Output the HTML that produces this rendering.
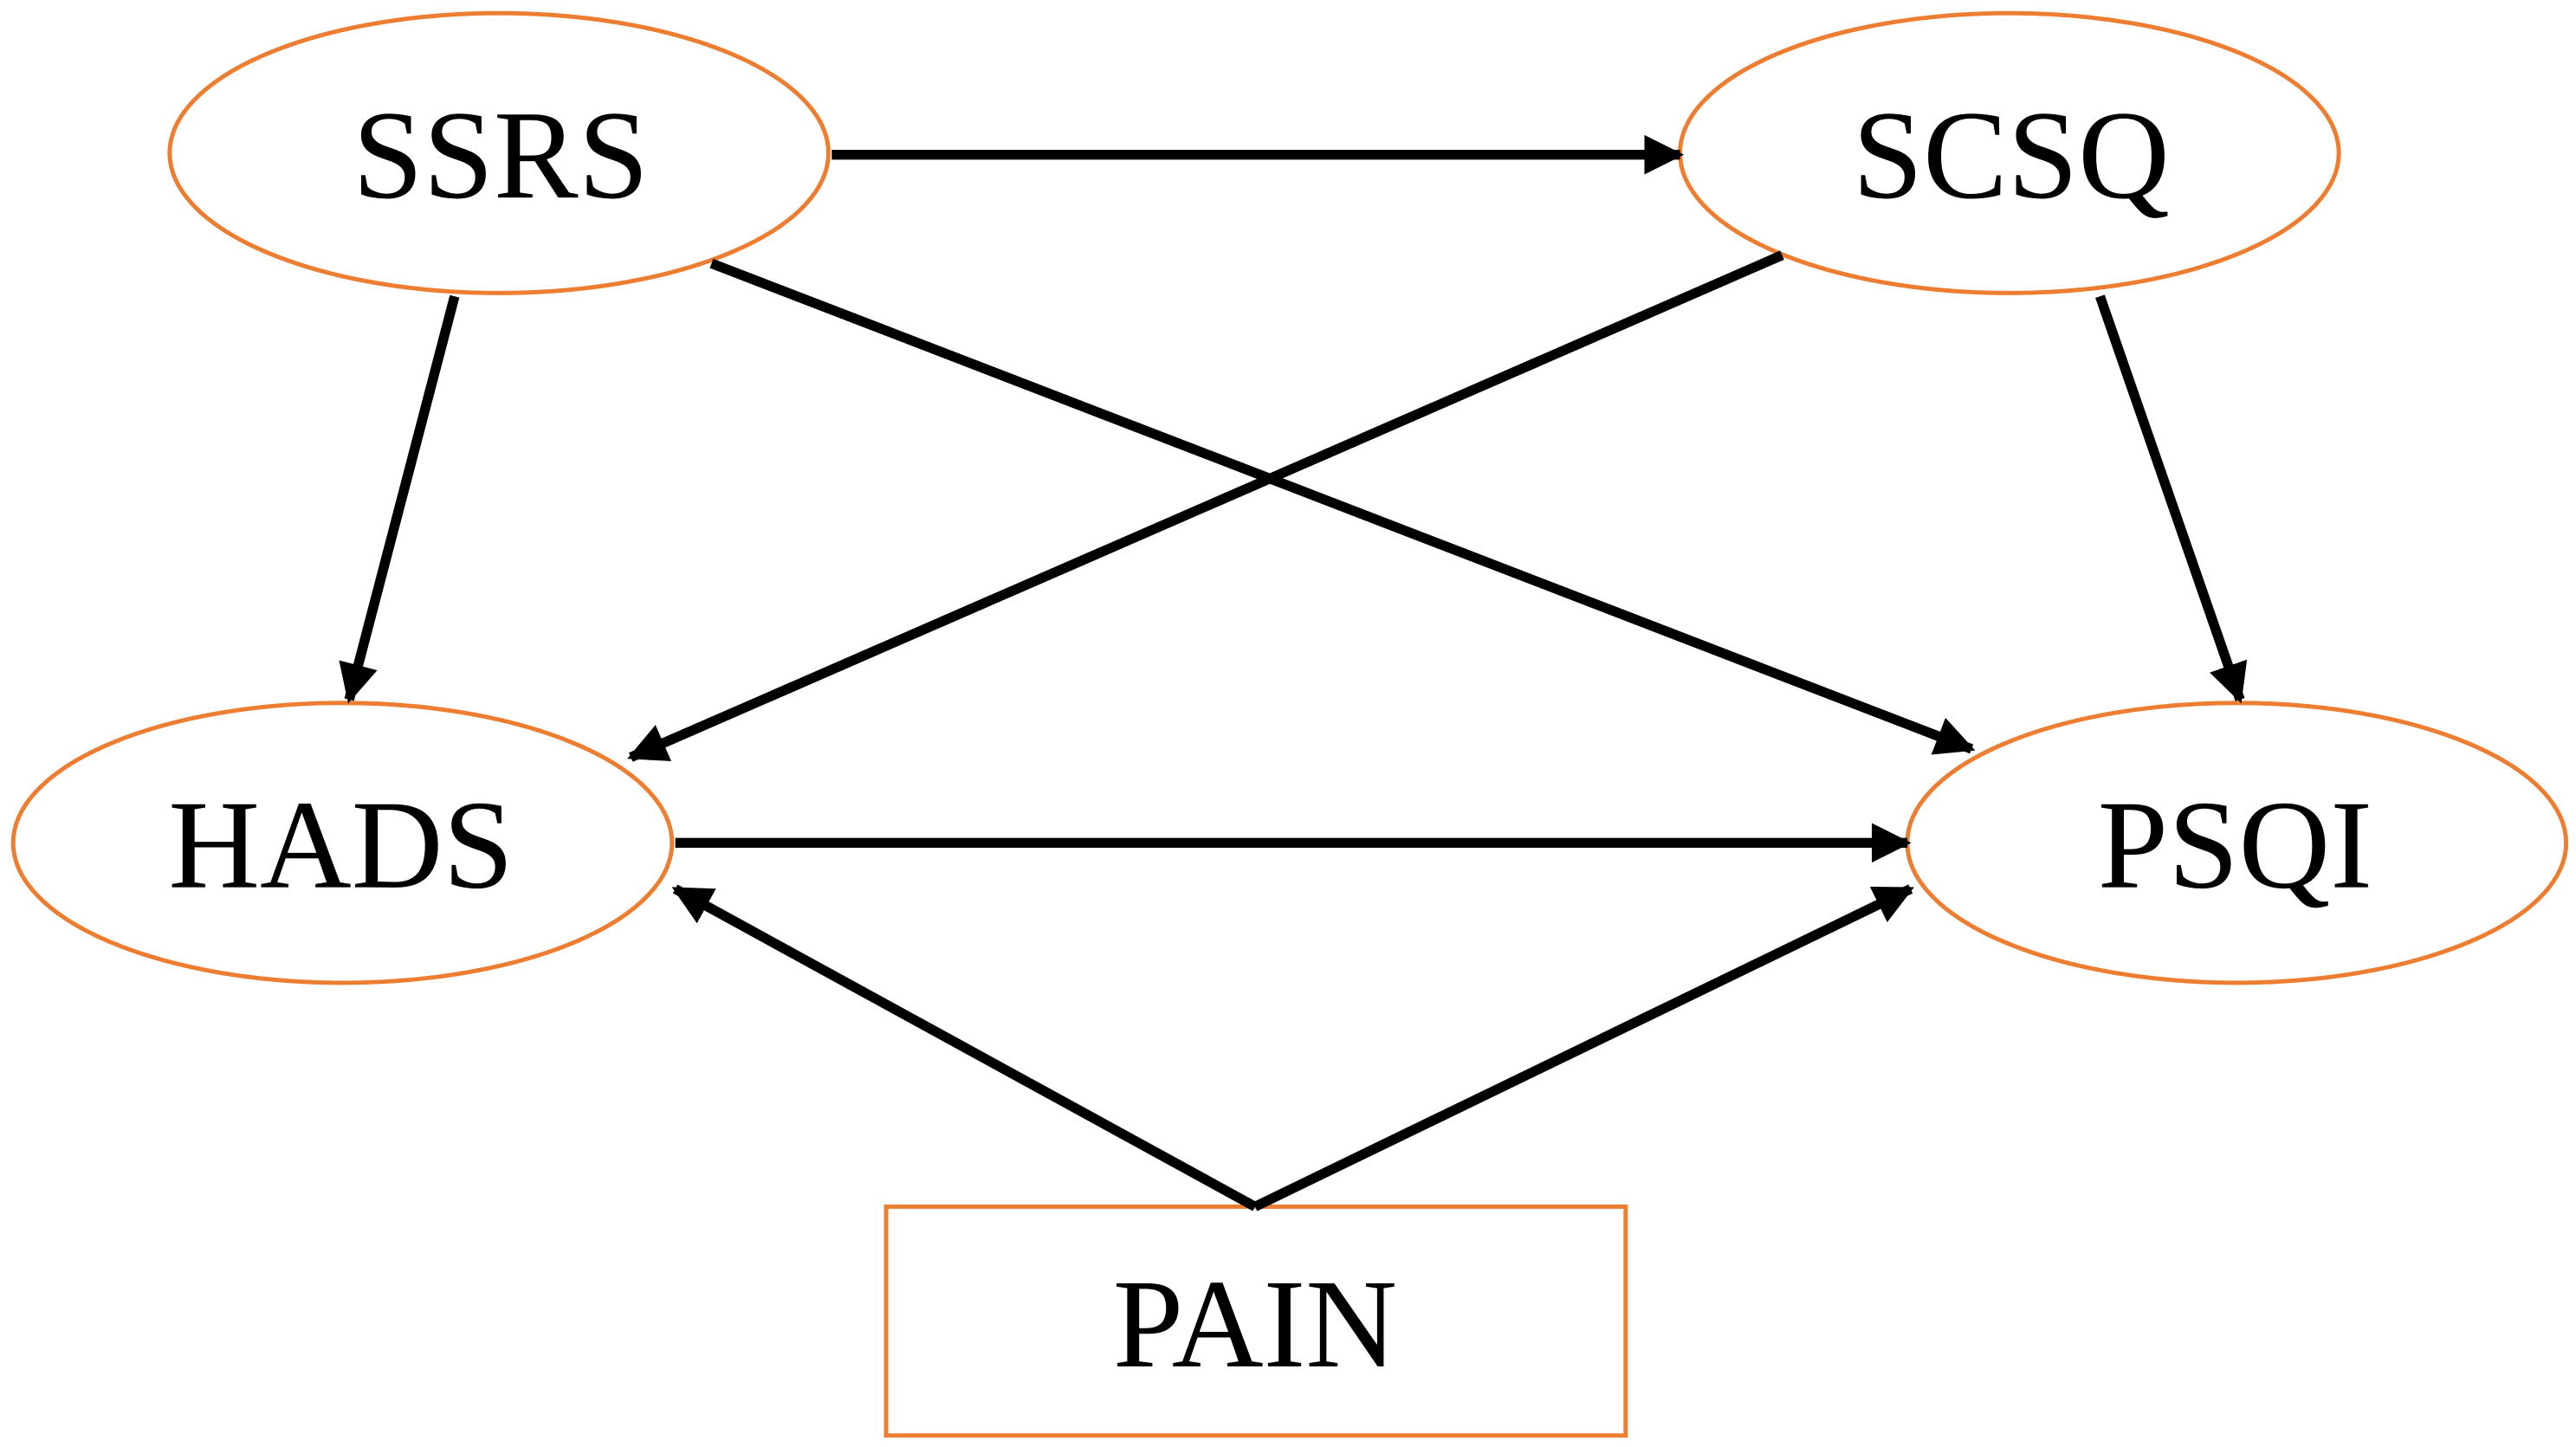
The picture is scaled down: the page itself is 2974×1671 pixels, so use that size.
<!DOCTYPE html>
<html><head><meta charset="utf-8"><style>html,body{margin:0;padding:0;background:#fff}svg{display:block}text{font-family:"Liberation Serif","Times New Roman",serif}</style></head>
<body>
<svg width="2974" height="1671" viewBox="0 0 1564 879" preserveAspectRatio="none" xmlns="http://www.w3.org/2000/svg">
<defs><marker id="a" markerWidth="4" markerHeight="4" refX="3.6" refY="2" orient="auto" markerUnits="strokeWidth"><path d="M0,0 L4,2 L0,4 z" fill="#000"/></marker></defs>
<g fill="#fff" stroke="#ED7D31" stroke-width="2.6">
<ellipse cx="303" cy="93" rx="200" ry="85"/>
<ellipse cx="1220" cy="93" rx="200" ry="85"/>
<ellipse cx="208" cy="512" rx="200" ry="85"/>
<ellipse cx="1358" cy="512" rx="200" ry="85"/>
<rect x="538" y="733" width="449" height="139"/>
</g>
<g stroke="#000" stroke-width="6" fill="none" marker-end="url(#a)">
<line x1="505" y1="94" x2="1020" y2="94"/>
<line x1="432" y1="160" x2="1197" y2="455"/>
<line x1="1082" y1="155" x2="383" y2="460"/>
<line x1="276" y1="180" x2="212" y2="425"/>
<line x1="1275" y1="180" x2="1360" y2="425"/>
<line x1="410" y1="512" x2="1158" y2="512"/>
<line x1="762" y1="733" x2="410" y2="540"/>
<line x1="762" y1="733" x2="1160" y2="540"/>
</g>
<g font-size="77" text-anchor="middle" fill="#000">
<text x="304" y="120">SSRS</text>
<text x="1221" y="120">SCSQ</text>
<text x="207" y="539">HADS</text>
<text x="1357" y="539">PSQI</text>
<text x="762" y="830">PAIN</text>
</g>
</svg>
</body></html>
